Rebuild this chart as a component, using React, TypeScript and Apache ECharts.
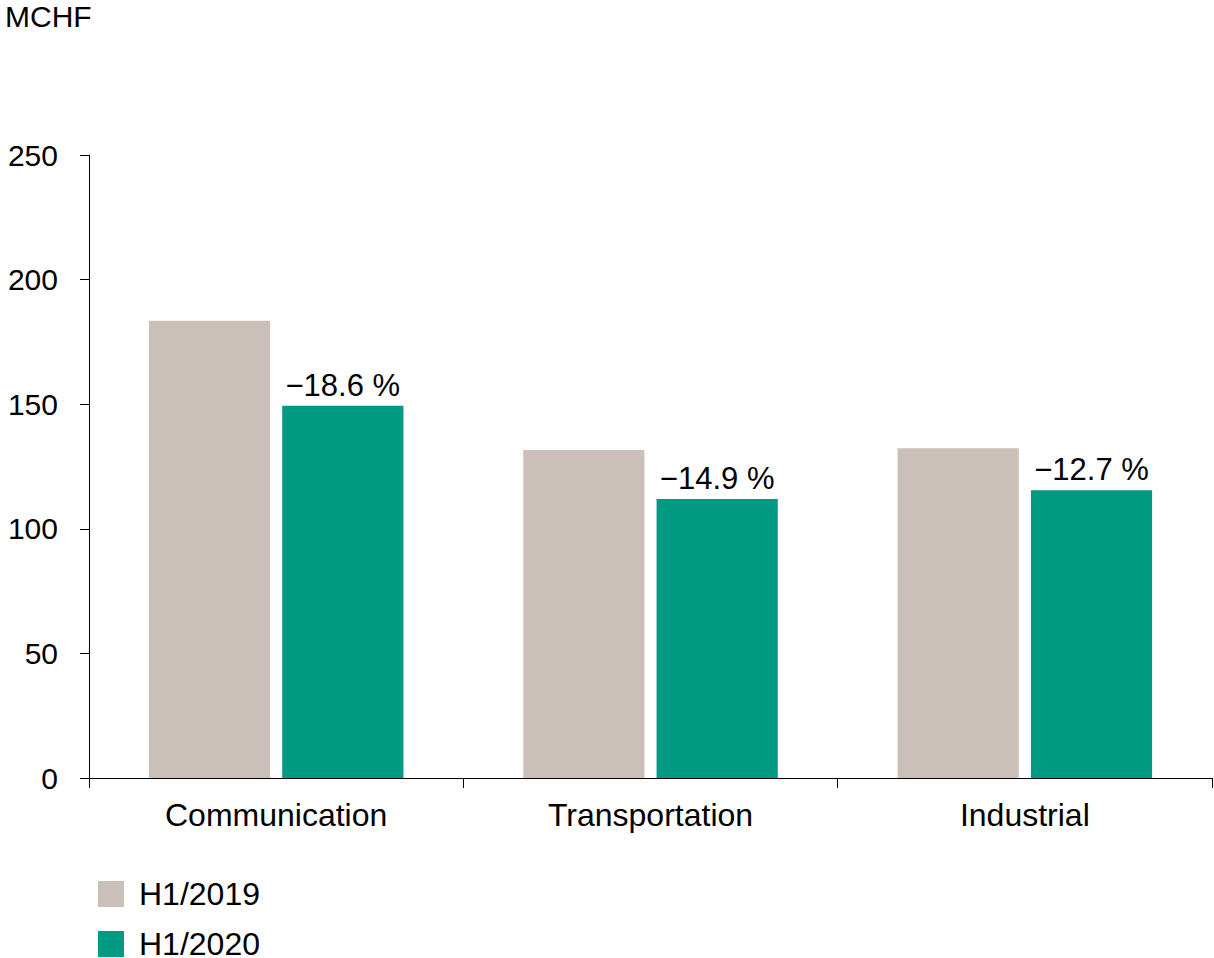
import React, { useEffect, useRef } from "react";
import * as echarts from "echarts";

const categories = ["Communication", "Transportation", "Industrial"];
const seriesNames = ["H1/2019", "H1/2020"];
const values2019 = [183.5, 131.6, 132.3];
const values2020 = [149.4, 112.0, 115.5];
const changeLabels = ["\u221218.6 %", "\u221214.9 %", "\u221212.7 %"];
const yTicks = { min: 0, max: 250, interval: 50 };
const unitLabel = "MCHF";

const FONT = "Liberation Sans, Arial, sans-serif";
const GRAY = "#cbbfba";
const TEAL = "#009b82";

const legendBase = {
  orient: "vertical",
  left: 98,
  padding: 0,
  itemWidth: 26,
  itemHeight: 26,
  icon: "rect",
  textStyle: {
    fontSize: 32,
    fontFamily: FONT,
    color: "#000",
    lineHeight: 26,
    padding: [0, 0, 0, 10],
  },
};

export default function App() {
  const ref = useRef<HTMLDivElement>(null);
  useEffect(() => {
    if (!ref.current) return;
    const chart = echarts.init(ref.current, undefined, { renderer: "svg" });
    chart.setOption({
      animation: false,
      textStyle: { fontFamily: FONT },
      graphic: [
        {
          type: "text",
          left: 5,
          top: 1,
          style: { text: unitLabel, fontSize: 30, fontFamily: FONT, fill: "#000" },
        },
      ],
      grid: { left: 89, right: 2, top: 155, bottom: 180, containLabel: false },
      legend: [
        { ...legendBase, top: 878, data: [seriesNames[0]] },
        { ...legendBase, top: 928, data: [seriesNames[1]] },
      ],
      xAxis: {
        type: "category",
        data: categories,
        axisLine: { lineStyle: { color: "#000", width: 1 } },
        axisTick: { show: true, length: 10, lineStyle: { color: "#000" } },
        axisLabel: { fontSize: 32, fontFamily: FONT, color: "#000", margin: 21 },
      },
      yAxis: {
        type: "value",
        min: yTicks.min,
        max: yTicks.max,
        interval: yTicks.interval,
        splitLine: { show: false },
        axisLine: { show: true, lineStyle: { color: "#000", width: 1 } },
        axisTick: { show: true, length: 9, lineStyle: { color: "#000" } },
        axisLabel: { fontSize: 30, fontFamily: FONT, color: "#000", margin: 31 },
      },
      series: [
        {
          name: seriesNames[0],
          type: "bar",
          data: values2019,
          itemStyle: { color: GRAY },
          barGap: "10%",
          barCategoryGap: "32%",
        },
        {
          name: seriesNames[1],
          type: "bar",
          data: values2020.map((v, i) => ({
            value: v,
            label: {
              show: true,
              position: "top",
              distance: 5,
              formatter: changeLabels[i],
              fontSize: 31,
              fontFamily: FONT,
              color: "#000",
            },
          })),
          itemStyle: { color: TEAL },
        },
      ],
    });
    return () => chart.dispose();
  }, []);
  return (
    <div
      ref={ref}
      style={{ position: "absolute", left: 0, top: 0, width: 1214, height: 958 }}
    />
  );
}
